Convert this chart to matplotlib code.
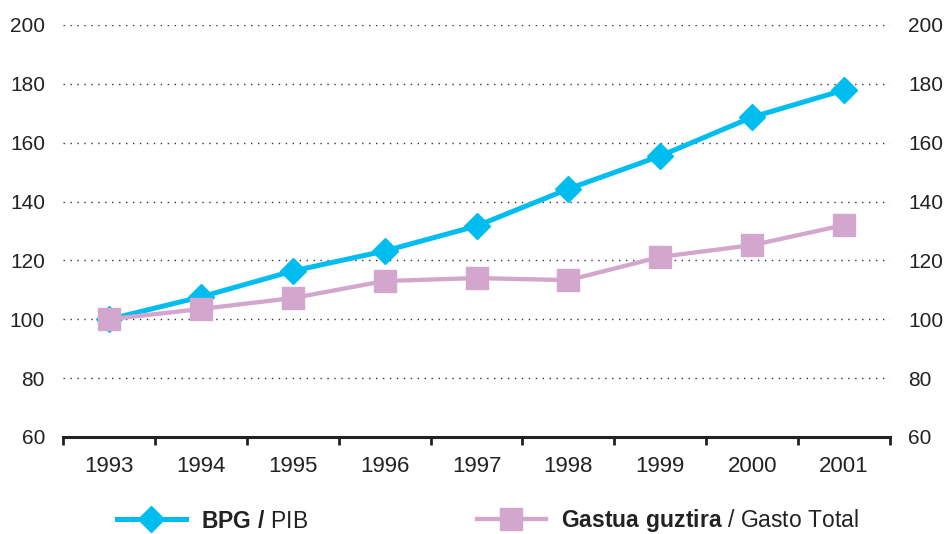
import matplotlib
matplotlib.use("Agg")
import matplotlib.pyplot as plt
import numpy as np

years = ["1993", "1994", "1995", "1996", "1997", "1998", "1999", "2000", "2001"]
bpg = [100.0, 107.6, 116.4, 123.2, 131.7, 144.3, 155.5, 168.7, 177.9]
gasto = [100.0, 103.5, 107.2, 113.0, 114.0, 113.3, 121.2, 125.2, 132.0]
yticks = [60, 80, 100, 120, 140, 160, 180, 200]
label_bpg = r"$\mathbf{BPG\ /}$ PIB"
label_gasto = r"$\mathbf{Gastua\ guztira}$ / Gasto Total"

plt.rcParams["font.family"] = ["Liberation Sans", "DejaVu Sans"]
plt.rcParams["mathtext.fontset"] = "custom"
plt.rcParams["mathtext.rm"] = "Liberation Sans"
plt.rcParams["mathtext.bf"] = "Liberation Sans:bold"

blue = "#00BDF0"
pink = "#D3A6CD"
txt = "#222222"

fig = plt.figure(figsize=(9.44, 5.34), dpi=100)
ax = fig.add_axes([63/944, 1-437/534, (890-63)/944, (437-25)/534])

x = np.arange(len(years))
l1, = ax.plot(x, bpg, color=blue, lw=3.6, marker="D", ms=13.5, mec=blue, mfc=blue, zorder=3)
l2, = ax.plot(x, gasto, color=pink, lw=3.1, marker="s", ms=16, mec=pink, mfc=pink, zorder=4)

ax.set_xlim(-0.5, len(years) - 0.5)
ax.set_ylim(60, 200)
ax.set_yticks(yticks)
ax.set_yticklabels([str(v) for v in yticks])
for s in ["left", "right", "top"]:
    ax.spines[s].set_visible(False)
ax.spines["bottom"].set_linewidth(2.2)
ax.spines["bottom"].set_color(txt)

ax.set_xticks(x)
ax.set_xticklabels(years)
ax.set_xticks(np.arange(-0.5, len(years), 1.0), minor=True)
ax.tick_params(axis="x", which="major", length=0, pad=14, labelsize=16, labelcolor=txt)
ax.tick_params(axis="x", which="minor", length=6, width=2, color=txt, direction="out")
ax.tick_params(axis="y", which="both", length=0, labelsize=15, labelcolor=txt,
               left=True, right=True, labelleft=True, labelright=True, pad=13)

for v in yticks[1:]:
    ax.axhline(v, color="#333333", lw=1.0, ls=(0, (1, 4)), zorder=1)

leg1 = fig.legend([l1], [label_bpg], loc="center left", bbox_to_anchor=(117/944, 1-521/534),
                  frameon=False, borderpad=0, borderaxespad=0, handlelength=3.0,
                  handletextpad=0.65, fontsize=16.5, labelcolor=txt)
leg2 = fig.legend([l2], [label_gasto], loc="center left", bbox_to_anchor=(477/944, 1-521/534),
                  frameon=False, borderpad=0, borderaxespad=0, handlelength=3.0,
                  handletextpad=0.65, fontsize=16.5, labelcolor=txt)

fig.savefig("out.png", dpi=100)
